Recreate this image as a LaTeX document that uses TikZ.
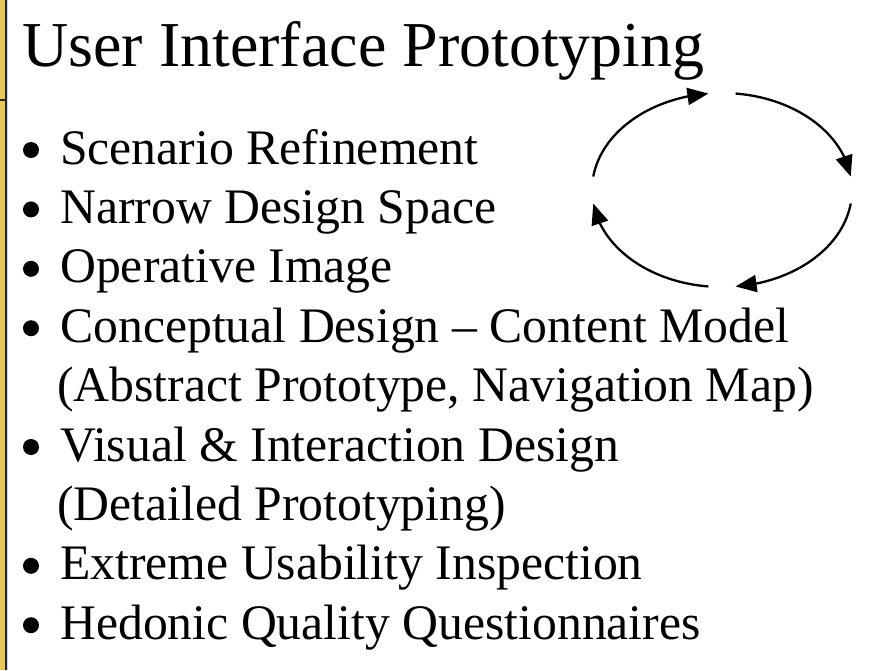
\documentclass[tikz,border=0pt]{standalone}
\usepackage{fontspec}
\setmainfont{Liberation Serif}
\usetikzlibrary{arrows.meta,bending,calc}

\tikzset{
  title/.style={anchor=base west, inner sep=0pt, font=\fontsize{64}{70}\selectfont},
  item/.style={anchor=base west, inner sep=0pt, font=\fontsize{49.7}{56}\selectfont},
  dot/.style={circle, fill=black, inner sep=0pt, minimum size=16pt},
  cyclearc/.style={line width=2.3pt, -{Triangle[length=21pt,width=17pt,flex]}},
}
\definecolor{stripgold}{RGB}{232,200,92}
\definecolor{stripdark}{RGB}{40,36,30}

\begin{document}
\begin{tikzpicture}[x=1pt,y=-1pt]
  \useasboundingbox (0,0) rectangle (883,670);
  \fill[white] (0,0) rectangle (883,670);

  % gold edge strip on the left
  \fill[stripgold] (0,0) rectangle (4.5,670);
  \fill[stripdark] (4.5,0) rectangle (6.5,670);
  \fill[black!15] (6.5,0) rectangle (8,670);
  \draw[stripdark, line width=1.5pt] (0,100) -- (5,100);

  % heading
  \node[title] (head) at (22,66) {User Interface Prototyping};

  % bullet list (dots sit 14pt above each baseline)
  \node[dot]  (b1) at (31,150.0) {};
  \node[item] (t1) at (60,164.0) {Scenario Refinement};
  \node[dot]  (b2) at (31,209.4) {};
  \node[item] (t2) at (60,223.4) {Narrow Design Space};
  \node[dot]  (b3) at (31,268.8) {};
  \node[item] (t3) at (60,282.8) {Operative Image};
  \node[dot]  (b4) at (31,328.2) {};
  \node[item] (t4) at (60,342.2) {Conceptual Design – Content Model};
  \node[item] (t4b) at (57,401.6) {(Abstract Prototype, Navigation Map)};
  \node[dot]  (b5) at (31,447.0) {};
  \node[item] (t5) at (60,461.0) {Visual \& Interaction Design};
  \node[item] (t5b) at (57,520.4) {(Detailed Prototyping)};
  \node[dot]  (b6) at (31,565.8) {};
  \node[item] (t6) at (60,579.8) {Extreme Usability Inspection};
  \node[dot]  (b7) at (31,625.2) {};
  \node[item] (t7) at (60,639.2) {Hedonic Quality Questionnaires};

  % iteration cycle: four arcs on one ellipse
  \coordinate (C) at (722,190);
  \coordinate (p1) at ($(C)+(-172:130 and 97)$);
  \coordinate (p2) at ($(C)+(-84:130 and 97)$);
  \coordinate (p3) at ($(C)+(8:130 and 97)$);
  \coordinate (p4) at ($(C)+(96:130 and 97)$);
  \draw[cyclearc] (p1) arc[start angle=-172, end angle=-96, x radius=130, y radius=97];
  \draw[cyclearc] (p2) arc[start angle=-84, end angle=-8, x radius=130, y radius=97];
  \draw[cyclearc] (p3) arc[start angle=8, end angle=84, x radius=130, y radius=97];
  \draw[cyclearc] (p4) arc[start angle=96, end angle=172, x radius=130, y radius=97];
\end{tikzpicture}
\end{document}
